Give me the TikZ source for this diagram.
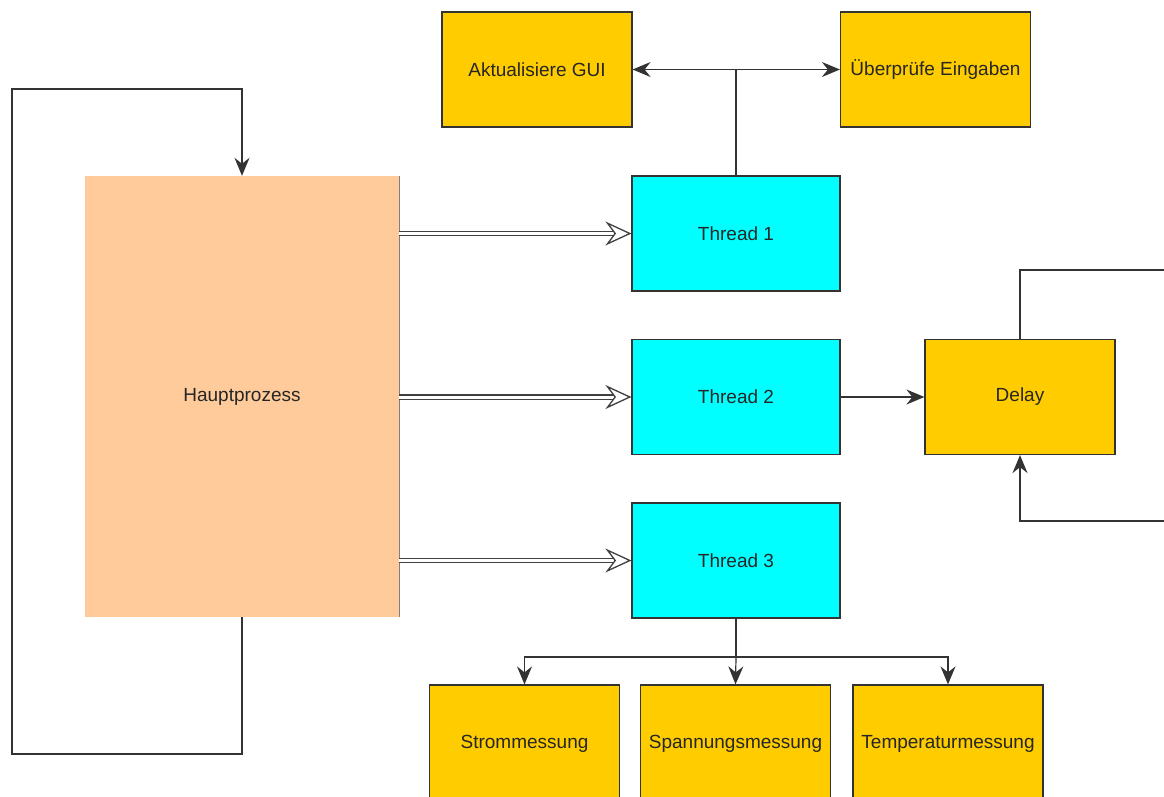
\documentclass[tikz,border=0pt]{standalone}
\usepackage{fontspec}
\setmainfont{Liberation Sans}
\usetikzlibrary{arrows.meta}
\definecolor{gold}{HTML}{FFCC00}
\definecolor{aqua}{HTML}{00FFFF}
\definecolor{peach}{HTML}{FFCB9A}

\begin{document}
\begin{tikzpicture}[x=1pt,y=-1pt,
    box/.style={draw=black!80, line width=1.2pt, minimum width=190pt, minimum height=115pt,
      inner sep=0pt, font=\fontsize{19}{21}\selectfont, text=black!85},
    task/.style={box, fill=gold},
    thread/.style={box, fill=aqua, minimum width=208pt},
    line/.style={draw=black!80, line width=1.2pt},
    link/.style={line, -{Stealth[length=18pt,width=15pt,inset=6pt]}},
    spawn/.style={draw=black!75, line width=1.3pt, double=white, double distance=3pt},
    spawnhead/.style={draw=black!75, line width=1.3pt,
      -{Stealth[length=26pt,width=24pt,inset=9pt,fill=white]}}]
    \clip (0,0) rectangle (1164,796);
    \fill[white] (0,0) rectangle (1164,796);

    % Hauptprozess
    \node[fill=peach, minimum width=314pt, minimum height=441pt, inner sep=0pt,
      font=\fontsize{19}{21}\selectfont, text=black!85] (haupt) at (242,396.5) {Hauptprozess};
    \draw[black!50, line width=0.8pt] (haupt.north east) -- (haupt.south east);

    % Threads
    \node[thread] (t1) at (736,233.5) {Thread 1};
    \node[thread] (t2) at (736,397) {Thread 2};
    \node[thread] (t3) at (736,560.5) {Thread 3};

    % Tasks
    \node[task] (gui) at (537,69.5) {Aktualisiere GUI};
    \node[task] (check) at (935.5,69.5) {Überprüfe Eingaben};
    \node[task] (delay) at (1020,397) {Delay};
    \node[task, minimum height=118pt] (strom) at (524.5,744) {Strommessung};
    \node[task, minimum height=118pt] (spann) at (735.5,744) {Spannungsmessung};
    \node[task, minimum height=118pt] (temp) at (948,744) {Temperaturmessung};

    % Schleife des Hauptprozesses
    \coordinate (lpbot) at (12,754);
    \coordinate (lptop) at (12,89);
    \draw[link] (haupt.south) |- (lpbot) |- (lptop) -| (haupt.north);

    % Threads starten
    \foreach \t in {t1,t2,t3} {
      \draw[spawn] (haupt.east |- \t) -- ([xshift=-16pt]\t.west);
      \draw[spawnhead] ([xshift=-1pt]\t.west) -- (\t.west);
    }

    % Thread 1
    \draw[link] (t1.north) |- (gui.east);
    \draw[link] (t1.north) |- (check.west);

    % Thread 2 und Delay
    \coordinate (edgetop) at (1164,270);
    \coordinate (edgebot) at (1164,521);
    \draw[link] (t2) -- (delay);
    \draw[line] (delay.north) |- (edgetop);
    \draw[link] (edgebot) -| (delay.south);

    % Thread 3
    \coordinate (fork) at (736,657);
    \draw[line] (t3.south) -- (fork);
    \draw[link] (fork) -| (strom.north);
    \draw[link] (fork) -- (spann.north);
    \draw[link] (fork) -| (temp.north);
\end{tikzpicture}
\end{document}
